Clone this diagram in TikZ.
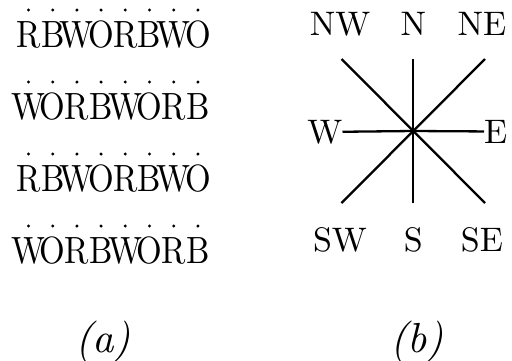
\documentclass[tikz,border=0pt]{standalone}
\usepackage{fontspec}
\setmainfont{lmroman10-regular.otf}[ItalicFont=lmroman10-italic.otf]
\begin{document}
\begin{tikzpicture}[x=1pt,y=-1pt,
  grid letter/.style={inner sep=0pt,anchor=base,yscale=1.15,font=\fontsize{33}{33}\selectfont},
  gdot/.style={fill=black,circle,inner sep=0pt,minimum size=3.3pt},
  compass label/.style={inner sep=0pt,anchor=base,font=\fontsize{34}{34}\selectfont},
  caption/.style={inner sep=0pt,anchor=base,font=\fontsize{42}{42}\selectfont\itshape},
  ray/.style={line width=2.3pt}]
\useasboundingbox (0,0) rectangle (512,360);
% (a) letter grid
\foreach \row/\word [count=\r from 0] in {0/{R,B,W,O,R,B,W,O},1/{W,O,R,B,W,O,R,B},2/{R,B,W,O,R,B,W,O},3/{W,O,R,B,W,O,R,B}}{
  \foreach \ch [count=\i from 0] in \word {
    \node[gdot] (d\r\i) at ({28.5+24.2*\i},{10+72*\r}) {};
    \node[grid letter] (l\r\i) at ({28.5+24.2*\i},{47.5+72*\r}) {\ch};
  }
}
% (b) compass
\coordinate (c) at (413.3,131);
\coordinate (pN) at (413.3,59);
\coordinate (pS) at (413.3,203);
\coordinate (pNW) at (341.5,59);
\coordinate (pNE) at (485,59);
\coordinate (pSW) at (341.5,203);
\coordinate (pSE) at (485,203);
\node[compass label] (NW) at (340,35) {NW};
\node[compass label] (N) at (413.3,35) {N};
\node[compass label] (NE) at (482,35) {NE};
\node[compass label,anchor=base east] (W) at (342.5,143) {W};
\node[compass label,anchor=base west] (E) at (484,143) {E};
\node[compass label] (SW) at (340,251) {SW};
\node[compass label] (S) at (413.3,251) {S};
\node[compass label] (SE) at (482,251) {SE};
\draw[ray] (W.east) -- (c) -- (E.west);
\draw[ray] (pN) -- (c) -- (pS);
\draw[ray] (pNW) -- (c) -- (pSE);
\draw[ray] (pNE) -- (c) -- (pSW);
% captions
\node[caption] (ca) at (103,352) {(a)};
\node[caption] (cb) at (417,352) {(b)};
\end{tikzpicture}
\end{document}
